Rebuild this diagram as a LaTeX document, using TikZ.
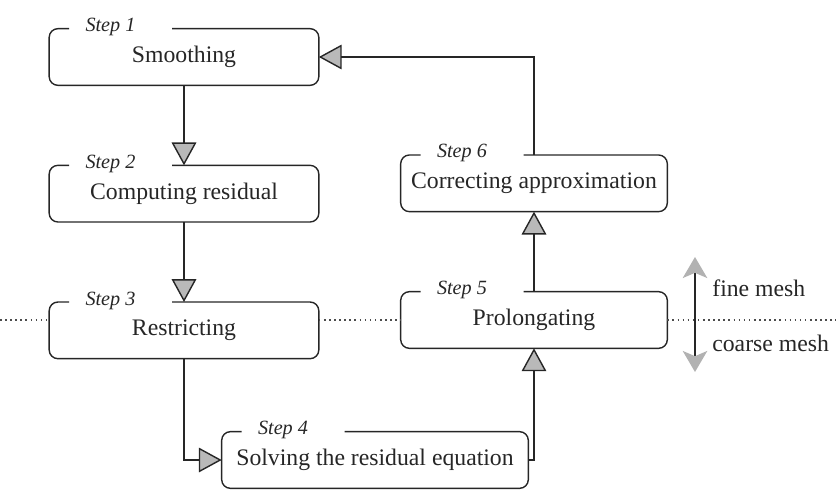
\documentclass[tikz,border=0pt]{standalone}
\usepackage{fontspec}
\setmainfont{Liberation Serif}
\usetikzlibrary{positioning,arrows.meta,calc}

\begin{document}
\begin{tikzpicture}[
    x=0.02cm, y=0.02cm,
    node distance=1.6cm,
    stage/.style={minimum width=#1, minimum height=1.12cm, inner sep=0pt, font=\fontsize{13.5}{16}\selectfont, text=black!85},
    stage/.default=5.38cm,
    steplabel/.style={anchor=base west, inner sep=0pt, font=\fontsize{11.5}{14}\selectfont\itshape, text=black!85},
    stepframe/.style={draw=black!85, line width=0.8pt, rounded corners=5pt},
    flow/.style={-{Triangle[length=13pt,width=14pt,fill=gray!55]}, draw=black!85, line width=0.8pt},
    meshline/.style={dotted, line width=0.9pt, draw=black!70},
    meshlabel/.style={anchor=west, inner sep=0pt, font=\fontsize{13.5}{16}\selectfont, text=black!85},
]
    \useasboundingbox (0,0) rectangle (836,491);

    % steps
    \node[stage] (s1) at (184,434) {Smoothing};
    \node[stage, below=of s1] (s2) {Computing residual};
    \node[stage, below=of s2] (s3) {Restricting};
    \node[stage=6.12cm] (s4) at (375,31) {Solving the residual equation};
    \node[stage=5.32cm] (s5) at (534,171) {Prolongating};
    \node[stage=5.32cm, above=of s5] (s6) {Correcting approximation};

    % step labels and open frames
    \foreach \i in {1,...,6} {
        \node[steplabel] (l\i) at ($(s\i.north west)+(36,-3)$) {Step \i};
        \draw[stepframe] ($(s\i.north west)+(20,0)$) -- (s\i.north west) -- (s\i.south west)
            -- (s\i.south east) -- (s\i.north east) -- ($(s\i.north west)+(123,0)$);
    }

    \draw[flow] (s1) -- (s2);
    \draw[flow] (s2) -- (s3);
    \draw[flow] (s3.south) |- (s4.west);
    \draw[flow] (s4.east) -| (s5.south);
    \draw[flow] (s5) -- (s6);
    \draw[flow] (s6.north) |- (s1.east);

    % fine / coarse mesh
    \coordinate (ml) at (0,171);
    \coordinate (mr) at (836,171);
    \draw[meshline] (ml) -- (ml -| s3.west);
    \draw[meshline] (s3.east |- ml) -- (s5.west |- ml);
    \draw[meshline] (s5.east |- ml) -- (mr);

    \coordinate (mup) at (695,234);
    \coordinate (mdown) at (695,119);
    \draw[{Stealth[length=12pt,width=14pt,inset=3pt,gray!60]}-{Stealth[length=12pt,width=14pt,inset=3pt,gray!60]}, draw=black!85, line width=0.8pt] (mup) -- (mdown);
    \node[meshlabel] (fine) at (712,203) {fine mesh};
    \node[meshlabel] (coarse) at (712,148) {coarse mesh};
\end{tikzpicture}
\end{document}
